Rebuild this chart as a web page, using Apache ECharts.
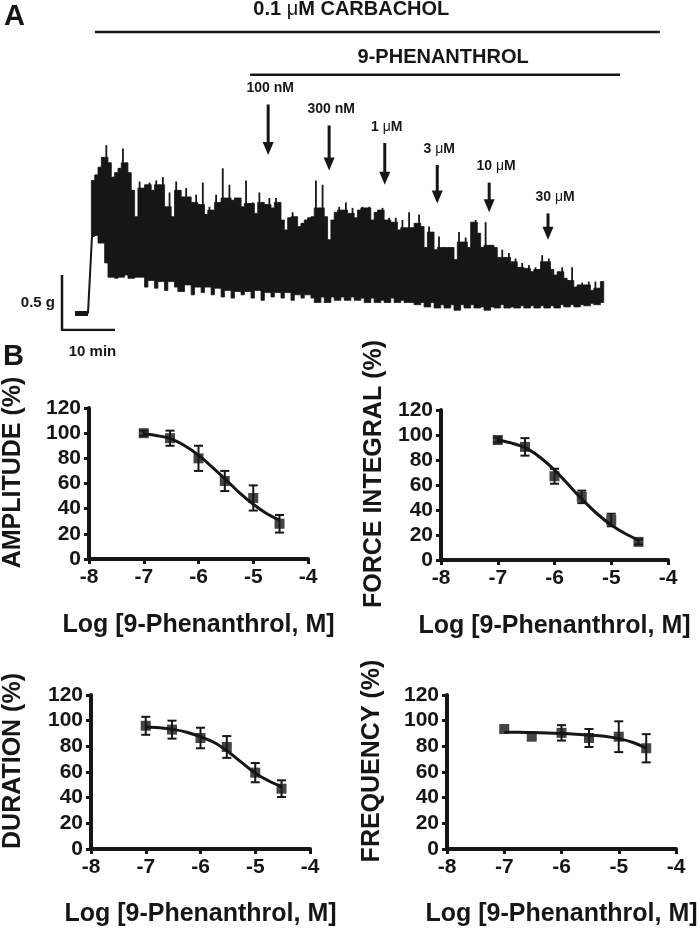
<!DOCTYPE html>
<html><head><meta charset="utf-8">
<script src="https://cdn.jsdelivr.net/npm/echarts@6/dist/echarts.min.js"></script>
<style>html,body{margin:0;padding:0;background:#fff}#c{width:700px;height:928px}</style>
</head><body><div id="c"></div>
<script>
// ================= DATA =================
// ---- Panel A: contraction trace (time in min, tension in g) ----
const traceUpperT0 = 5.85, traceUpperT1 = 101.9;   // first / last contraction time
const traceUpper = [
 1.36,1.41,1.48,1.57,1.68,1.52,1.39,1.43,1.47,1.65,1.52,1.43,1.27,1.03,1.35,1.29,1.32,1.34,1.27,1.36,
 1.32,1.39,1.12,1.25,1.03,1.35,1.27,1.21,1.29,1.21,1.16,1.23,1.14,1.34,1.05,1.12,1.09,1.23,1.16,1.47,
 1.20,1.32,1.18,1.20,
 1.20,1.12,1.36,1.15,1.16,1.06,1.25,1.16,1.14,1.20,1.11,1.20,1.16,1.00,0.91,1.02,1.07,1.03,0.94,0.97,
 1.00,1.02,1.03,1.36,1.11,1.32,1.03,0.82,1.00,1.07,1.12,1.09,1.16,1.06,1.11,1.02,1.09,1.12,1.11,1.12,
 1.00,1.07,1.09,1.11,1.00,1.02,0.98,1.02,0.91,1.00,0.93,1.07,0.93,0.97,
 1.05,0.94,0.75,0.94,0.89,0.73,0.85,0.75,0.75,0.75,0.75,0.64,0.89,0.80,0.84,0.75,0.98,1.00,0.88,0.75,
 0.98,0.77,0.77,0.75,0.66,0.73,0.66,0.70,0.62,0.65,0.57,0.61,0.56,0.59,0.53,0.57,0.55,0.68,0.62,0.65,
 0.55,0.50,0.53,0.57,0.47,0.45,0.57,0.39,0.41,0.43,0.41,0.44,0.36,0.44,0.38,0.44
];
const traceLowerT0 = 5.66, traceLowerT1 = 101.9;
const traceLower = [
 0.85,0.86,0.79,0.61,0.48,0.47,0.48,0.50,0.47,0.48,
 0.48,0.39,0.45,0.38,0.44,0.36,0.44,0.39,0.35,0.41,
 0.32,0.39,0.34,0.39,0.32,0.38,0.30,0.36,0.29,0.35,
 0.32,0.35,0.29,0.36,0.27,0.34,0.30,0.34,0.29,0.34,
 0.27,0.32,0.29,0.32,0.29,0.25,0.30,0.25,0.30,0.27,
 0.30,0.27,0.30,0.27,0.29,0.25,0.29,0.25,0.27,0.25,
 0.29,0.25,0.27,0.25,0.25,0.23,0.25,0.21,0.25,0.20,
 0.23,0.20,0.23,0.18,0.23,0.20,0.23,0.20,0.21,0.18,
 0.21,0.20,0.23,0.20,0.21,0.20,0.22,0.20,0.22,0.20,
 0.22,0.20,0.22,0.20,0.23,0.21,0.23,0.21,0.23,0.22,
 0.24,0.23,0.25
];
const restingTrace = [[2.45, 0.15], [4.9, 0.15]];
const riseTrace = [[4.9, 0.15], [5.66, 0.85]];
const carbacholPeriod = [6.2, 112.8];
const carbacholLevel = 2.71;
const phenanthrolPeriod = [35.5, 105.3];
const phenanthrolLevel = 2.32;
const doseLabels = ['100 nM', '300 nM', '1 μM', '3 μM', '10 μM', '30 μM'];
const doseTimes = [38.9, 50.4, 60.9, 70.8, 80.6, 91.7];
const arrowTop = [2.05, 1.86, 1.70, 1.50, 1.34, 1.06];
const arrowBottom = [1.59, 1.45, 1.32, 1.15, 1.07, 0.82];
const scaleBarMinutes = 10, scaleBarGrams = 0.5;

// ---- Panel B: concentration-response ----
const logConc = [-7, -6.52, -6, -5.52, -5, -4.52];
const amplitudeMean = [100, 96, 80, 62, 48.5, 28];
const amplitudeSEM = [2, 6, 10, 8, 10, 7];
const forceMean = [96, 90.5, 67, 50.5, 32, 14.5];
const forceSEM = [2, 7, 6, 5, 5, 2];
const durationMean = [96, 93, 86.5, 79.5, 59.5, 47];
const durationSEM = [7, 7, 8, 8.5, 7.5, 6.5];
const frequencyMean = [93.5, 87.5, 90.5, 86.5, 87.5, 78.5];
const frequencySEM = [0, 0, 6, 7, 12, 11];
const fitLogConc = [-7, -6.75, -6.5, -6.25, -6, -5.75, -5.5, -5.25, -5, -4.75, -4.52];
const amplitudeFit = [99.5, 98, 95.5, 90, 82.5, 73, 63, 52.5, 43.5, 36, 31];
const forceFit = [96, 93.5, 89.5, 82, 72, 60, 48, 37, 28, 21, 16];
const durationFit = [95, 94.5, 93.2, 91, 87.5, 83, 76, 67.5, 59, 53, 48.5];
const frequencyFit = [91, 90.9, 90.7, 90.4, 90, 89.5, 88.8, 87.8, 86, 83, 78.5];
const yTitles = ['AMPLITUDE (%)', 'FORCE INTEGRAL (%)', 'DURATION (%)', 'FREQUENCY (%)'];
const xTitle = 'Log [9-Phenanthrol, M]';

// ================= BUILD =================
const FONT = '"Liberation Sans", Arial, Helvetica, sans-serif';
const INK = '#161616';
const chart = echarts.init(document.getElementById('c'));

const upStep = (traceUpperT1 - traceUpperT0) / (traceUpper.length - 1);
const loStep = (traceLowerT1 - traceLowerT0) / (traceLower.length - 1);
function lowerNearest(t) {
  let i = Math.round((t - traceLowerT0) / loStep);
  i = Math.max(0, Math.min(traceLower.length - 1, i));
  return traceLower[i];
}
// each contraction: [time, peak, trough, shoulder (peak capped at higher neighbour)]
const contractions = traceUpper.map((v, i) => {
  const t = traceUpperT0 + i * upStep;
  const prev = i > 0 ? traceUpper[i - 1] : v;
  const next = i < traceUpper.length - 1 ? traceUpper[i + 1] : v;
  return [t, v, lowerNearest(t), Math.min(v, Math.max(prev, next))];
});
// skyline outline of the trace body (top edge forward, bottom edge back)
const bodyTop = [], bodyBottom = [];
contractions.forEach(c => {
  bodyTop.push([c[0] - upStep / 2, c[3]], [c[0] + upStep / 2, c[3]]);
  bodyBottom.push([c[0] - upStep / 2, c[2]], [c[0] + upStep / 2, c[2]]);
});
const bodyOutline = bodyTop.concat(bodyBottom.reverse());

function richMu(s, size) {
  const parts = s.split('μ');
  if (parts.length === 1) return '{b' + size + '|' + s + '}';
  return '{b' + size + '|' + parts[0] + '}{m' + size + '|μ}{b' + size + '|' + parts[1] + '}';
}
function richStyles(sizes) {
  const r = {};
  sizes.forEach(s => {
    r['b' + s] = {fontFamily: FONT, fontWeight: 'bold', fontSize: s, fill: INK, color: INK};
    r['m' + s] = {fontFamily: FONT, fontWeight: 'normal', fontSize: s, fill: INK, color: INK};
  });
  return r;
}
const RICH = richStyles([14, 15, 20]);

const grids = [
  {left: 62, top: 0, width: 598.9, height: 330},
  {left: 81, top: 408, width: 227, height: 151},
  {left: 441, top: 410, width: 227, height: 150},
  {left: 80, top: 695, width: 230, height: 155},
  {left: 447, top: 695, width: 229, height: 154}
];
const yNameGaps = [63, 54, 65, 62];
const xNameGaps = [54, 54, 53, 53];

const xAxes = [{gridIndex: 0, type: 'value', min: 0, max: 113, show: false}];
const yAxes = [{gridIndex: 0, type: 'value', min: 0, max: 3, show: false}];
for (let k = 0; k < 4; k++) {
  xAxes.push({
    gridIndex: k + 1, type: 'value', min: -8, max: -4, interval: 1,
    name: xTitle, nameLocation: 'middle', nameGap: xNameGaps[k],
    nameTextStyle: {fontFamily: FONT, fontWeight: 'bold', fontSize: 25, color: INK},
    axisLine: {onZero: false, lineStyle: {color: INK, width: 4}},
    axisTick: {show: true, length: 5, lineStyle: {color: INK, width: 3}},
    axisLabel: {fontFamily: FONT, fontWeight: 'bold', fontSize: 21, color: INK, margin: 8},
    splitLine: {show: false}
  });
  yAxes.push({
    gridIndex: k + 1, type: 'value', min: 0, max: 120, interval: 20,
    name: yTitles[k], nameLocation: 'middle', nameGap: yNameGaps[k], nameRotate: 90,
    nameTextStyle: {fontFamily: FONT, fontWeight: 'bold', fontSize: 25, color: INK, padding: [0, 0, 0, 22]},
    axisLine: {show: true, lineStyle: {color: INK, width: 4}},
    axisTick: {show: true, length: 5, lineStyle: {color: INK, width: 3}},
    axisLabel: {fontFamily: FONT, fontWeight: 'bold', fontSize: 21, color: INK, margin: 8},
    splitLine: {show: false}
  });
}

const series = [];
// trace body (single skyline polygon)
series.push({
  type: 'custom', xAxisIndex: 0, yAxisIndex: 0, data: [[0, 0]], silent: true,
  renderItem: (params, api) => ({
    type: 'polygon', shape: {points: bodyOutline.map(p => api.coord(p))},
    style: {fill: INK, stroke: INK, lineWidth: 0.8}
  })
});
// contraction peaks as thin needles
series.push({
  type: 'custom', xAxisIndex: 0, yAxisIndex: 0, data: contractions, silent: true,
  renderItem: (params, api) => {
    const t = api.value(0);
    const peak = api.coord([t, api.value(1)]);
    const sh = api.coord([t, api.value(3)]);
    const nw = 1.8;
    return {type: 'rect', shape: {x: peak[0] - nw / 2, y: peak[1], width: nw, height: sh[1] - peak[1] + 1},
      style: {fill: INK}};
  }
});
series.push({type: 'line', xAxisIndex: 0, yAxisIndex: 0, data: restingTrace, symbol: 'none',
  lineStyle: {color: INK, width: 5}, silent: true});
series.push({type: 'line', xAxisIndex: 0, yAxisIndex: 0, data: riseTrace, symbol: 'none',
  lineStyle: {color: INK, width: 2}, silent: true});
// scale bar
series.push({type: 'line', xAxisIndex: 0, yAxisIndex: 0, symbol: 'none', silent: true,
  data: [[0, scaleBarGrams], [0, 0], [scaleBarMinutes, 0]],
  lineStyle: {color: INK, width: 2.5}});
// drug application bars
series.push({type: 'line', xAxisIndex: 0, yAxisIndex: 0, symbol: 'none', silent: true,
  data: [[carbacholPeriod[0], carbacholLevel], [carbacholPeriod[1], carbacholLevel]],
  lineStyle: {color: INK, width: 2.5}});
series.push({type: 'line', xAxisIndex: 0, yAxisIndex: 0, symbol: 'none', silent: true,
  data: [[phenanthrolPeriod[0], phenanthrolLevel], [phenanthrolPeriod[1], phenanthrolLevel]],
  lineStyle: {color: INK, width: 2.5}});
// annotation text for panel A
series.push({
  type: 'custom', xAxisIndex: 0, yAxisIndex: 0, data: [[0, 0]], silent: true,
  renderItem: (params, api) => {
    const c = api.coord([(carbacholPeriod[0] + carbacholPeriod[1]) / 2, carbacholLevel]);
    const p = api.coord([(phenanthrolPeriod[0] + phenanthrolPeriod[1]) / 2, phenanthrolLevel]);
    const s0 = api.coord([0, scaleBarGrams / 2]);
    const s1 = api.coord([scaleBarMinutes / 2, 0]);
    return {type: 'group', children: [
      {type: 'text', style: {text: richMu('0.1 μM CARBACHOL', 20), rich: RICH, x: c[0] - 26, y: c[1] - 22, align: 'center', verticalAlign: 'middle'}},
      {type: 'text', style: {text: richMu('9-PHENANTHROL', 20), rich: RICH, x: p[0] + 8, y: p[1] - 17, align: 'center', verticalAlign: 'middle'}},
      {type: 'text', style: {text: richMu('0.5 g', 15), rich: RICH, x: s0[0] - 7, y: s0[1], align: 'right', verticalAlign: 'middle'}},
      {type: 'text', style: {text: richMu('10 min', 15), rich: RICH, x: s1[0] + 4, y: s1[1] + 22, align: 'center', verticalAlign: 'middle'}}
    ]};
  }
});
// dose arrows
series.push({
  type: 'custom', xAxisIndex: 0, yAxisIndex: 0, silent: true,
  data: doseTimes.map((t, i) => [t, arrowTop[i], arrowBottom[i]]),
  renderItem: (params, api) => {
    const i = params.dataIndex;
    const a = api.coord([api.value(0), api.value(1)]);
    const b = api.coord([api.value(0), api.value(2)]);
    const dx = i >= 4 ? 7 : 2;
    return {type: 'group', children: [
      {type: 'line', shape: {x1: a[0], y1: a[1], x2: b[0], y2: b[1] - 10}, style: {stroke: INK, lineWidth: 3}},
      {type: 'polygon', shape: {points: [[b[0] - 5.5, b[1] - 13], [b[0] + 5.5, b[1] - 13], [b[0], b[1]]]}, style: {fill: INK}},
      {type: 'text', style: {text: richMu(doseLabels[i], 14), rich: RICH, x: a[0] + dx, y: a[1] - 16, align: 'center', verticalAlign: 'middle'}}
    ]};
  }
});

// Panel B
const panels = [
  [amplitudeMean, amplitudeSEM, amplitudeFit],
  [forceMean, forceSEM, forceFit],
  [durationMean, durationSEM, durationFit],
  [frequencyMean, frequencySEM, frequencyFit]
];
panels.forEach((pd, k) => {
  const [mean, sem, fit] = pd;
  series.push({type: 'line', xAxisIndex: k + 1, yAxisIndex: k + 1, smooth: 0.35, symbol: 'none', silent: true,
    data: fitLogConc.map((x, i) => [x, fit[i]]), lineStyle: {color: INK, width: 3}});
  series.push({
    type: 'custom', xAxisIndex: k + 1, yAxisIndex: k + 1, silent: true,
    data: logConc.map((x, i) => [x, mean[i], sem[i]]),
    renderItem: (params, api) => {
      const x = api.value(0), m = api.value(1), e = api.value(2);
      const t = api.coord([x, m + e]), b = api.coord([x, m - e]);
      if (e <= 0) return {type: 'group', children: []};
      const w = 4.5;
      return {type: 'group', children: [
        {type: 'line', shape: {x1: t[0], y1: t[1], x2: b[0], y2: b[1]}, style: {stroke: INK, lineWidth: 2}},
        {type: 'line', shape: {x1: t[0] - w, y1: t[1], x2: t[0] + w, y2: t[1]}, style: {stroke: INK, lineWidth: 2}},
        {type: 'line', shape: {x1: b[0] - w, y1: b[1], x2: b[0] + w, y2: b[1]}, style: {stroke: INK, lineWidth: 2}}
      ]};
    }
  });
  series.push({type: 'scatter', xAxisIndex: k + 1, yAxisIndex: k + 1, symbol: 'rect', symbolSize: 10, silent: true,
    data: logConc.map((x, i) => [x, mean[i]]), itemStyle: {color: INK}});
});

chart.setOption({
  animation: false,
  backgroundColor: '#ffffff',
  grid: grids,
  xAxis: xAxes,
  yAxis: yAxes,
  series: series,
  graphic: [
    {type: 'text', left: 4, top: 2, style: {text: 'A', font: 'bold 29px ' + FONT, fill: INK}},
    {type: 'text', left: 3, top: 342, style: {text: 'B', font: 'bold 29px ' + FONT, fill: INK}}
  ]
});
</script></body></html>
